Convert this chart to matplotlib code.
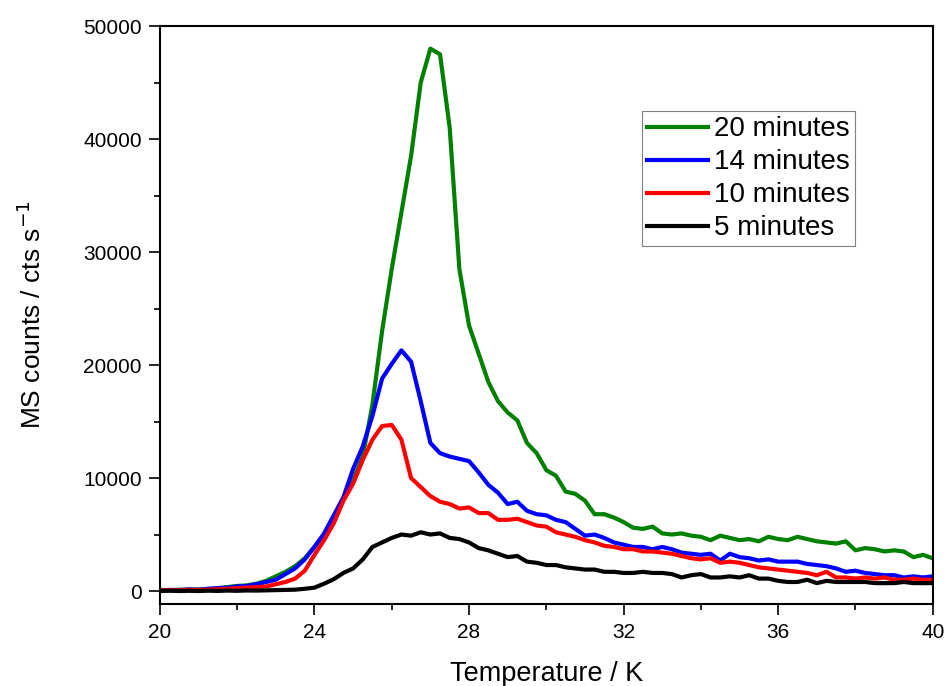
import numpy as np
import matplotlib.pyplot as plt

plt.rcParams['font.family'] = ['Liberation Sans', 'DejaVu Sans']

# temperature grid (K), 0.25 K steps
temp = np.arange(20.0, 40.001, 0.25)

counts_20 = [100, 80, 120, 100, 150, 180, 250, 350, 450, 500, 650, 900,
             1300, 1700, 2200, 2900, 3900, 5000, 6500, 8100, 9800, 11900, 16500, 23000,
             28500, 33500, 38500, 45000, 48000, 47500, 41000, 28500, 23500, 21000, 18500, 16800,
             15800, 15100, 13100, 12200, 10700, 10200, 8800, 8600, 8000, 6800, 6800, 6500,
             6100, 5600, 5500, 5700, 5100, 5000, 5100, 4900, 4800, 4500, 4900, 4700,
             4500, 4600, 4400, 4800, 4600, 4500, 4800, 4600, 4400, 4300, 4200, 4400,
             3600, 3800, 3700, 3500, 3600, 3500, 3000, 3200, 2900]

counts_14 = [50, 100, 80, 150, 100, 200, 250, 300, 400, 450, 600, 800,
             1000, 1500, 2000, 2800, 3900, 5100, 6700, 8300, 10800, 12800, 15500, 18800,
             20100, 21300, 20300, 16800, 13100, 12200, 11900, 11700, 11500, 10500, 9400, 8700,
             7700, 7900, 7100, 6800, 6700, 6300, 6100, 5500, 4900, 5000, 4700, 4300,
             4100, 3900, 3900, 3700, 3900, 3700, 3400, 3300, 3200, 3300, 2700, 3300,
             3000, 2900, 2700, 2800, 2600, 2600, 2600, 2400, 2300, 2200, 2000, 1700,
             1800, 1600, 1500, 1400, 1400, 1200, 1300, 1200, 1300]

counts_10 = [50, 80, 60, 100, 80, 120, 150, 200, 250, 300, 350, 400,
             600, 800, 1100, 1800, 3200, 4500, 6000, 8000, 9500, 11600, 13400, 14600,
             14700, 13400, 10000, 9200, 8400, 7900, 7700, 7300, 7400, 6900, 6900, 6300,
             6300, 6400, 6100, 5800, 5700, 5200, 5000, 4800, 4500, 4300, 4000, 3900,
             3700, 3700, 3500, 3500, 3400, 3300, 3100, 2900, 2800, 2900, 2500, 2600,
             2500, 2300, 2100, 2000, 1900, 1800, 1700, 1600, 1400, 1700, 1200, 1200,
             1100, 1200, 1100, 1200, 1000, 1000, 1100, 1000, 1000]

counts_5 = [0, 30, 0, 20, 0, 30, 10, 40, 20, 50, 40, 60,
            80, 100, 120, 200, 300, 650, 1050, 1600, 2000, 2800, 3900, 4300,
            4700, 5000, 4900, 5200, 5000, 5100, 4700, 4600, 4300, 3800, 3600, 3300,
            3000, 3100, 2600, 2500, 2300, 2300, 2100, 2000, 1900, 1900, 1700, 1700,
            1600, 1600, 1700, 1600, 1600, 1500, 1200, 1400, 1500, 1200, 1200, 1300,
            1200, 1400, 1100, 1100, 900, 800, 800, 1000, 700, 900, 800, 800,
            800, 800, 700, 700, 700, 800, 700, 700, 700]

fig = plt.figure(figsize=(9.46, 6.86), dpi=100)
ax = fig.add_axes([0.169, 0.1195, 0.817, 0.8425])

lw = 3.0
ax.plot(temp, counts_20, color='#008000', lw=lw, label='20 minutes')
ax.plot(temp, counts_14, color='#0000ff', lw=lw, label='14 minutes')
ax.plot(temp, counts_10, color='#ff0000', lw=lw, label='10 minutes')
ax.plot(temp, counts_5, color='black', lw=lw, label='5 minutes')

ax.set_xlim(20, 40)
ax.set_ylim(-1150, 50000)
ax.set_xticks([20, 24, 28, 32, 36, 40])
ax.set_xticks(np.arange(20, 41, 2), minor=True)
ax.set_yticks(np.arange(0, 50001, 10000))
ax.set_yticks(np.arange(0, 50001, 5000), minor=True)

ax.tick_params(which='both', direction='out', width=1.2, labelsize=15, top=False, right=False)
ax.tick_params(which='major', length=8)
ax.tick_params(which='minor', length=4.5)
ax.tick_params(axis='x', pad=6)
ax.tick_params(axis='y', pad=5)
for s in ax.spines.values():
    s.set_linewidth(1.5)

ax.set_xlabel('Temperature / K', fontsize=19.5, labelpad=13)
ax.set_ylabel('MS counts / cts s$^{-1}$', fontsize=19, labelpad=27)

leg = ax.legend(loc='lower right', bbox_to_anchor=(0.899, 0.619), fontsize=20,
                handlelength=2.2, handletextpad=0.2, labelspacing=0.25,
                borderpad=0.18, borderaxespad=0,
                fancybox=False, framealpha=1, edgecolor='#808080')
leg.get_frame().set_linewidth(0.8)

fig.savefig('out.png', dpi=100)
